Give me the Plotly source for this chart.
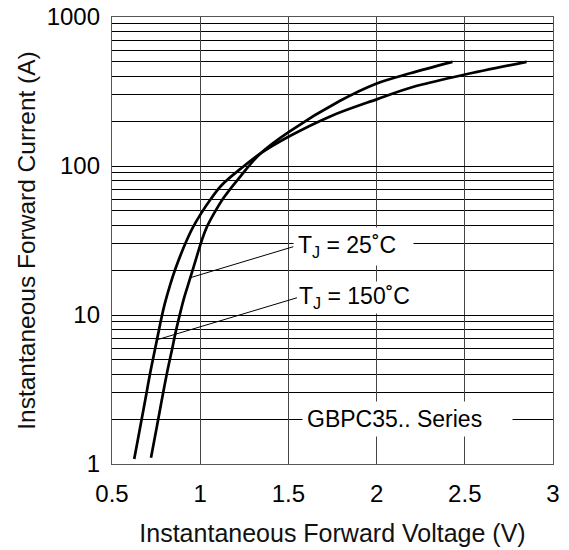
import math
import plotly.graph_objects as go

# ---------------- data ----------------
v_25c = [0.721, 0.755, 0.783, 0.812, 0.840, 0.859, 0.883, 0.906, 0.944, 0.982,
         1.010, 1.038, 1.076, 1.132, 1.227, 1.340, 1.501, 1.793, 2.001, 2.190, 2.430]
i_25c = [1.10, 1.80, 2.72, 4.10, 5.85, 7.50, 9.90, 12.7, 17.8, 25.0,
         32.0, 39.0, 47.5, 61.0, 85.0, 121, 169, 274, 358, 419, 500]

v_150c = [0.626, 0.660, 0.690, 0.715, 0.740, 0.760, 0.780, 0.800, 0.830, 0.860,
          0.890, 0.925, 0.960, 1.000, 1.060, 1.120, 1.230, 1.340, 1.500, 1.740,
          2.000, 2.210, 2.490, 2.850]
i_150c = [1.08, 1.77, 2.75, 4.00, 5.60, 7.30, 9.50, 12.0, 16.0, 20.5,
          25.5, 32.0, 39.0, 47.0, 60.0, 74.0, 96.0, 121, 157, 216,
          280, 340, 408, 500]

x_ticks = [0.5, 1, 1.5, 2, 2.5, 3]
x_tick_labels = ["0.5", "1", "1.5", "2", "2.5", "3"]
y_ticks = [1, 10, 100, 1000]
y_tick_labels = ["1", "10", "100", "1000"]
y_minor = [k * 10 ** d for d in range(0, 3) for k in range(2, 10)]

label_25 = "T<sub>J</sub> = 25˚C"
label_150 = "T<sub>J</sub> = 150˚C"
series_label = "GBPC35.. Series"
x_title = "Instantaneous Forward Voltage (V)"
y_title = "Instantaneous Forward Current (A)"

FONT = "Liberation Sans, Arial, Helvetica, sans-serif"

fig = go.Figure()
fig.add_trace(go.Scatter(x=v_25c, y=i_25c, mode="lines", name="TJ = 25°C",
                         line=dict(color="black", width=2.7, shape="spline", smoothing=1.0)))
fig.add_trace(go.Scatter(x=v_150c, y=i_150c, mode="lines", name="TJ = 150°C",
                         line=dict(color="black", width=2.7, shape="spline", smoothing=1.0)))

ann_common = dict(showarrow=True, arrowhead=0, arrowwidth=1, arrowcolor="black",
                  standoff=0, xanchor="left", yanchor="middle",
                  bgcolor="white",
                  font=dict(family=FONT, size=23, color="black"))

fig.add_annotation(x=0.944, y=math.log10(17.8), ax=103, ay=-31, borderpad=4,
                   text=label_25 + "\u00a0\u00a0", **ann_common)
fig.add_annotation(x=0.755, y=math.log10(6.82), ax=140, ay=-42, borderpad=1,
                   text=label_150, **ann_common)
fig.add_annotation(x=1.578, y=math.log10(2.0), xref="x", yref="y", showarrow=False,
                   xanchor="left", yanchor="middle", bgcolor="white", borderpad=4,
                   text=series_label + "\u00a0\u00a0\u00a0\u00a0",
                   font=dict(family=FONT, size=23, color="black"))

fig.update_layout(
    width=569, height=550, autosize=False,
    margin=dict(l=112, r=16, t=17, b=86, pad=0),
    paper_bgcolor="white", plot_bgcolor="white",
    showlegend=False,
    font=dict(family=FONT, size=23, color="black"),
)

fig.update_xaxes(
    range=[0.5, 3], tickvals=x_ticks, ticktext=x_tick_labels,
    showgrid=True, gridcolor="#444", gridwidth=1.2,
    showline=True, mirror=True, linecolor="#555", linewidth=1.3,
    ticks="", ticklabelstandoff=8, zeroline=False, automargin=False,
    ticklabeloverflow="allow",
    tickfont=dict(family=FONT, size=24, color="black"),
    title=dict(text=x_title, font=dict(family=FONT, size=25, color="#111"), standoff=18),
)
fig.update_yaxes(
    type="log", range=[0, 3], tickvals=y_ticks, ticktext=y_tick_labels,
    showgrid=True, gridcolor="black", gridwidth=1.4,
    minor=dict(tickvals=y_minor, showgrid=True, gridcolor="black", gridwidth=1.4, ticks=""),
    showline=True, mirror=True, linecolor="#555", linewidth=1.3,
    ticks="", ticklabelstandoff=6, zeroline=False, automargin=False,
    ticklabeloverflow="allow",
    tickfont=dict(family=FONT, size=24, color="black"),
    title=dict(text=y_title, font=dict(family=FONT, size=24.5, color="#111"), standoff=4),
)

# remove the browser's default 8px body margin so the figure sits at the window corner
fig.write_html("out.html", config={"displayModeBar": False},
               post_script="document.body.style.margin='0';")
